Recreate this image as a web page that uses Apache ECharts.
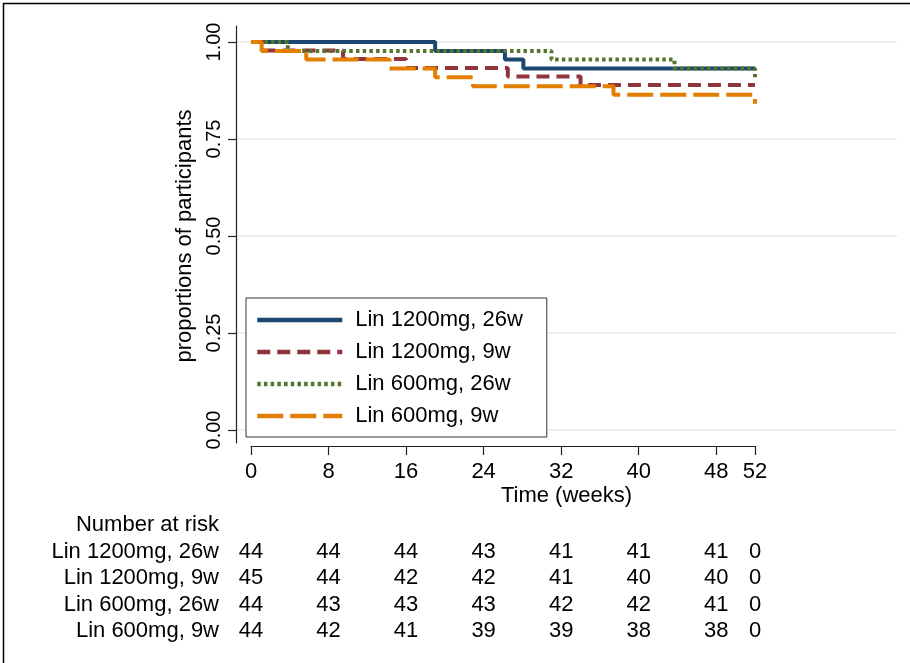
<!DOCTYPE html>
<html>
<head>
<meta charset="utf-8">
<script src="https://cdn.jsdelivr.net/npm/echarts@6/dist/echarts.min.js"></script>
<style>
html, body { margin: 0; padding: 0; background: #fff; }
#chart { width: 910px; height: 663px; }
</style>
</head>
<body>
<div id="chart"></div>
<script>
// Kaplan-Meier steps: [week, proportion]
const groupNames = ['Lin 1200mg, 26w', 'Lin 1200mg, 9w', 'Lin 600mg, 26w', 'Lin 600mg, 9w'];
const survBlue = [[0, 1], [19.0, 0.977], [26.2, 0.955], [28.1, 0.932], [52, 0.932]];
const survRed = [[0, 1], [1.4, 0.978], [9.5, 0.956], [16.0, 0.933], [26.5, 0.911], [34.0, 0.889], [52, 0.889]];
const survGreen = [[0, 1], [3.8, 0.977], [31.0, 0.955], [43.7, 0.932], [52, 0.909]];
const survOrange = [[0, 1], [1.1, 0.977], [5.7, 0.955], [14.3, 0.932], [19.0, 0.909], [22.9, 0.886], [37.4, 0.864], [52, 0.841]];

// number at risk table
const xTicks = [0, 8, 16, 24, 32, 40, 48, 52];
const riskBlue = [44, 44, 44, 43, 41, 41, 41, 0];
const riskRed = [45, 44, 42, 42, 41, 40, 40, 0];
const riskGreen = [44, 43, 43, 43, 42, 42, 41, 0];
const riskOrange = [44, 42, 41, 39, 39, 38, 38, 0];

const colors = ['#1a476f', '#90353b', '#55752f', '#e37e00'];
const dashes = ['solid', [13, 7], [3.5, 3.2], [26, 7]];
const fontFam = '"Liberation Sans", Arial, sans-serif';

const chart = echarts.init(document.getElementById('chart'));

const survData = [survBlue, survRed, survGreen, survOrange];
const riskData = [riskBlue, riskRed, riskGreen, riskOrange];

const lineSeries = survData.map((d, i) => ({
    name: groupNames[i],
    type: 'line',
    xAxisIndex: 1,
    yAxisIndex: 1,
    step: 'end',
    symbol: 'none',
    showSymbol: false,
    data: d,
    lineStyle: { color: colors[i], width: 4, type: dashes[i], cap: 'butt' },
    itemStyle: { color: colors[i] },
}));

const tableRows = ['Number at risk'].concat(groupNames);
const tableData = [];
riskData.forEach((row, i) => {
    row.forEach((v, j) => {
        tableData.push([xTicks[j], groupNames[i], v]);
    });
});

const option = {
    animation: false,
    backgroundColor: '#fff',
    textStyle: { fontFamily: fontFam },
    graphic: [
        {
            type: 'rect',
            shape: { x: 3.5, y: 3.5, width: 2000, height: 2000 },
            style: { fill: 'none', stroke: '#000', lineWidth: 1.5 },
            silent: true,
        },
    ],
    grid: [
        { left: 236, top: 42, width: 661, height: 388 },
        { left: 251, top: 42, width: 504, height: 388 },
        { left: 236, top: 26, width: 10, height: 417 },
        { left: 251, top: 511.75, width: 504, height: 132.5 },
    ],
    legend: {
        data: groupNames,
        orient: 'vertical',
        left: 246,
        top: 298,
        padding: [11, 24, 10, 9],
        itemGap: 10,
        itemWidth: 85,
        itemHeight: 14,
        borderColor: '#333',
        borderWidth: 1,
        backgroundColor: '#fff',
        borderRadius: 0,
        itemStyle: { opacity: 0 },
        lineStyle: { width: 4.5 },
        textStyle: {
            fontSize: 22,
            lineHeight: 22,
            color: '#000',
            fontFamily: fontFam,
            padding: [0, 0, 0, 8],
        },
    },
    xAxis: [
        {
            gridIndex: 0,
            type: 'value',
            min: 0,
            max: 1,
            axisLine: { show: false },
            axisTick: { show: false },
            axisLabel: { show: false },
            splitLine: { show: false },
            name: 'Time (weeks)',
            nameLocation: 'middle',
            nameGap: 55,
            nameTextStyle: { fontSize: 22, color: '#000', fontFamily: fontFam },
        },
        {
            gridIndex: 1,
            type: 'value',
            min: 0,
            max: 52,
            offset: 16,
            axisLine: { show: true, onZero: false, lineStyle: { color: '#222', width: 1.2 } },
            axisTick: { show: true, length: 9, customValues: xTicks, lineStyle: { color: '#222', width: 1.2 } },
            axisLabel: { fontSize: 22, color: '#000', margin: 15, customValues: xTicks, fontFamily: fontFam },
            splitLine: { show: false },
        },
        { gridIndex: 2, type: 'value', show: false },
        { gridIndex: 3, type: 'value', min: 0, max: 52, show: false },
    ],
    yAxis: [
        {
            gridIndex: 0,
            type: 'value',
            min: 0,
            max: 1,
            interval: 0.25,
            axisLine: { show: false, onZero: false },
            axisTick: { show: true, length: 8, lineStyle: { color: '#222', width: 1.2 } },
            axisLabel: {
                rotate: 90,
                fontSize: 20,
                color: '#000',
                margin: 12,
                fontFamily: fontFam,
                formatter: (v) => v.toFixed(2),
            },
            splitLine: { show: true, lineStyle: { color: '#e1ebee', width: 1.5 } },
            name: 'proportions of participants',
            nameLocation: 'middle',
            nameGap: 38,
            nameRotate: 90,
            nameTextStyle: { fontSize: 22, color: '#000', fontFamily: fontFam },
        },
        { gridIndex: 1, type: 'value', min: 0, max: 1, show: false },
        {
            gridIndex: 2,
            type: 'value',
            min: 0,
            max: 1,
            axisLine: { show: true, onZero: false, lineStyle: { color: '#222', width: 1.2 } },
            axisTick: { show: false },
            axisLabel: { show: false },
            splitLine: { show: false },
        },
        {
            gridIndex: 3,
            type: 'category',
            inverse: true,
            data: tableRows,
            axisLine: { show: false },
            axisTick: { show: false },
            splitLine: { show: false },
            axisLabel: { fontSize: 22, color: '#000', margin: 32, interval: 0, fontFamily: fontFam },
        },
    ],
    series: lineSeries.concat([
        {
            name: 'risk',
            type: 'scatter',
            xAxisIndex: 3,
            yAxisIndex: 3,
            symbolSize: 1,
            itemStyle: { color: 'rgba(0,0,0,0)' },
            data: tableData,
            label: {
                show: true,
                position: 'inside',
                formatter: (p) => String(p.value[2]),
                fontSize: 22,
                color: '#000',
                opacity: 1,
                fontFamily: fontFam,
            },
            silent: true,
        },
    ]),
};

chart.setOption(option);
</script>
</body>
</html>
